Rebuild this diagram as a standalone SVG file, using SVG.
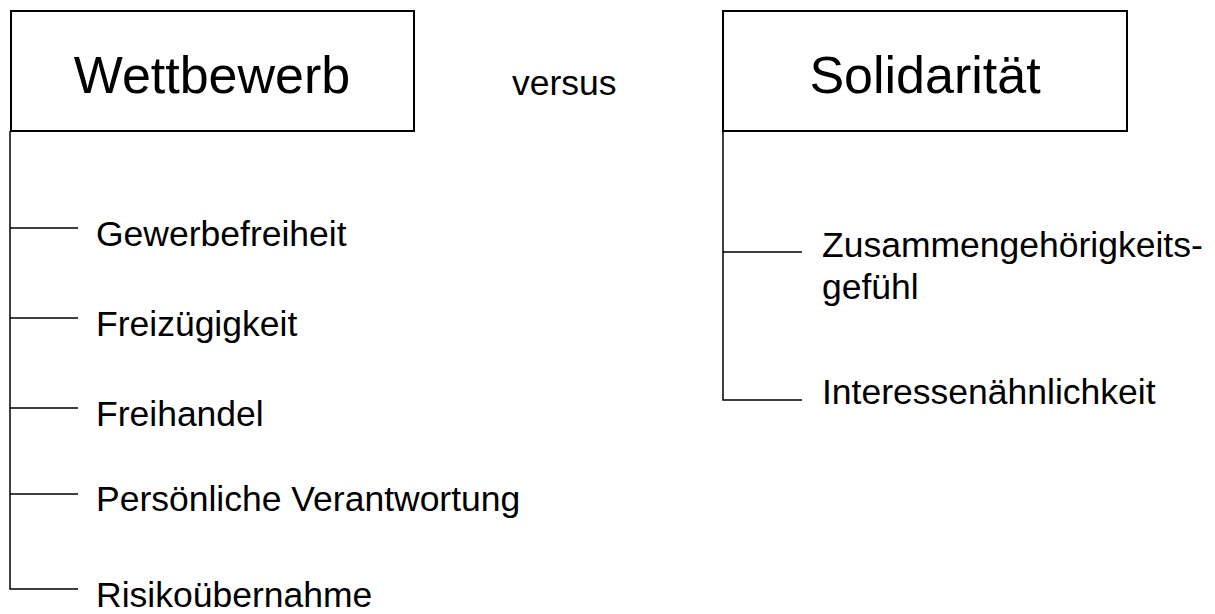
<svg xmlns="http://www.w3.org/2000/svg" width="1215" height="614" viewBox="0 0 1215 614">
<style>
.box{fill:#fff;stroke:#000;stroke-width:2}
.ln{fill:none;stroke:#000;stroke-width:1.5}
.h{font-family:"Liberation Sans",Arial,sans-serif;font-size:52px;fill:#000;text-anchor:middle}
.t{font-family:"Liberation Sans",Arial,sans-serif;font-size:35.5px;fill:#000}
</style>
<rect width="1215" height="614" fill="#fff"/>
<g id="connectors">
<path class="ln" d="M10,131 V589 H78 M10,228 H78 M10,318 H78 M10,408 H78 M10,494 H78"/>
<path class="ln" d="M723,131 V400 H802 M723,252 H802"/>
</g>
<g id="wettbewerb"><rect class="box" x="11" y="11" width="403" height="120"/><text class="h" x="212" y="93">Wettbewerb</text></g>
<g id="solidaritaet"><rect class="box" x="723" y="11" width="404" height="120"/><text class="h" x="925" y="93">Solidarität</text></g>
<g id="versus"><text class="t" x="512" y="95">versus</text></g>
<g id="gewerbefreiheit"><text class="t" x="96" y="246">Gewerbefreiheit</text></g>
<g id="freizuegigkeit"><text class="t" x="96" y="336">Freizügigkeit</text></g>
<g id="freihandel"><text class="t" x="96" y="426">Freihandel</text></g>
<g id="verantwortung"><text class="t" x="96" y="511">Persönliche Verantwortung</text></g>
<g id="risiko"><text class="t" x="96" y="607">Risikoübernahme</text></g>
<g id="zusammen"><text class="t" x="822" y="257">Zusammengehörigkeits-<tspan x="822" y="299">gefühl</tspan></text></g>
<g id="interessen"><text class="t" x="822" y="404">Interessenähnlichkeit</text></g>
</svg>
